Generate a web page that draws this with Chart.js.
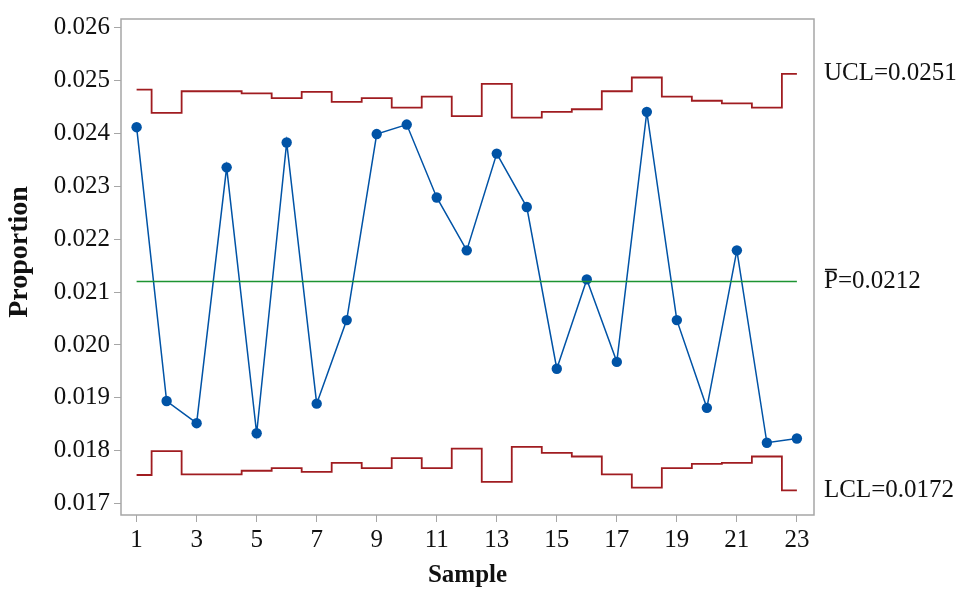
<!DOCTYPE html>
<html>
<head>
<meta charset="utf-8">
<script src="https://cdn.jsdelivr.net/npm/chart.js@4.4.1/dist/chart.umd.min.js"></script>
<style>
  html, body { margin: 0; padding: 0; background: #fff; }
  #wrap { width: 957px; height: 591px; }
</style>
</head>
<body>
<div id="wrap"><canvas id="pchart" width="957" height="591"></canvas></div>
<script>
// sample numbers
const samples = [1, 2, 3, 4, 5, 6, 7, 8, 9, 10, 11, 12, 13, 14, 15, 16, 17, 18, 19, 20, 21, 22, 23];

// proportion per sample
const proportion = [0.02412, 0.01894, 0.01852, 0.02336, 0.01833, 0.02383, 0.01889, 0.02047,
    0.02399, 0.02417, 0.02279, 0.02179, 0.02362, 0.02261, 0.01955, 0.02124,
    0.01968, 0.02441, 0.02047, 0.01881, 0.02179, 0.01815, 0.01823];

// control limits (vary by sample size)
const ucl = [0.02483, 0.02439, 0.02480, 0.02480, 0.02476, 0.02467, 0.02479, 0.02460,
    0.02467, 0.02449, 0.02470, 0.02433, 0.02494, 0.02430, 0.02441, 0.02446,
    0.02480, 0.02506, 0.02470, 0.02462, 0.02457, 0.02449, 0.02513];
const lcl = [0.01754, 0.01799, 0.01755, 0.01755, 0.01762, 0.01767, 0.01760, 0.01777,
    0.01767, 0.01786, 0.01767, 0.01804, 0.01741, 0.01807, 0.01796, 0.01789,
    0.01755, 0.01730, 0.01767, 0.01775, 0.01777, 0.01789, 0.01725];
const pBar = 0.0212;

const xTicks = [1, 3, 5, 7, 9, 11, 13, 15, 17, 19, 21, 23];
const yTicks = [0.017, 0.018, 0.019, 0.020, 0.021, 0.022, 0.023, 0.024, 0.025, 0.026];

const limitLabels = ['UCL=0.0251', 'P=0.0212', 'LCL=0.0172'];
const yTitle = 'Proportion';

const FONT = '"Liberation Serif", "Times New Roman", serif';
const BLUE = '#0053a6';
const RED = '#a01c20';
const GREEN = '#1d9432';
const GRAY = '#a6a6a6';

const toXY = (arr) => arr.map((v, i) => ({ x: samples[i], y: v }));

// frame, y title and right side limit labels
const extras = {
    id: 'extras',
    afterDraw(chart) {
        const ctx = chart.ctx;
        const a = chart.chartArea;
        const ys = chart.scales.y;
        ctx.save();
        ctx.strokeStyle = GRAY;
        ctx.lineWidth = 1.5;
        ctx.strokeRect(a.left, a.top, a.right - a.left, a.bottom - a.top);

        // y axis title
        ctx.save();
        ctx.translate(20, 252);
        ctx.rotate(-Math.PI / 2);
        ctx.fillStyle = '#111';
        ctx.font = 'bold 28px ' + FONT;
        ctx.textAlign = 'center';
        ctx.textBaseline = 'middle';
        ctx.fillText(yTitle, 0, 0);
        ctx.restore();

        ctx.fillStyle = '#111';
        ctx.font = '25px ' + FONT;
        ctx.textBaseline = 'middle';
        ctx.textAlign = 'left';
        const lx = a.right + 10;
        const yU = ys.getPixelForValue(ucl[ucl.length - 1]);
        const yC = ys.getPixelForValue(pBar);
        const yL = ys.getPixelForValue(lcl[lcl.length - 1]);
        ctx.fillText(limitLabels[0], lx, yU);
        ctx.fillText(limitLabels[1], lx, yC);
        ctx.fillText(limitLabels[2], lx, yL);
        // bar over the P
        const pw = ctx.measureText('P').width;
        ctx.strokeStyle = '#111';
        ctx.lineWidth = 1.5;
        ctx.beginPath();
        ctx.moveTo(lx + 1, yC - 12);
        ctx.lineTo(lx + pw - 1, yC - 12);
        ctx.stroke();
        ctx.restore();
    }
};

const ctx = document.getElementById('pchart').getContext('2d');
const chart = new Chart(ctx, {
    type: 'line',
    data: {
        datasets: [
            {
                label: 'UCL',
                data: toXY(ucl),
                borderColor: RED,
                borderWidth: 1.8,
                pointRadius: 0,
                stepped: 'middle',
                fill: false
            },
            {
                label: 'LCL',
                data: toXY(lcl),
                borderColor: RED,
                borderWidth: 1.8,
                pointRadius: 0,
                stepped: 'middle',
                fill: false
            },
            {
                label: 'P',
                data: [{ x: samples[0], y: pBar }, { x: samples[samples.length - 1], y: pBar }],
                borderColor: GREEN,
                borderWidth: 1.6,
                pointRadius: 0,
                fill: false
            },
            {
                label: 'Proportion',
                data: toXY(proportion),
                borderColor: BLUE,
                backgroundColor: BLUE,
                borderWidth: 1.5,
                pointRadius: 5.2,
                pointBorderWidth: 0,
                tension: 0,
                fill: false
            }
        ]
    },
    options: {
        responsive: false,
        animation: false,
        layout: { padding: { left: 0, right: 143, top: 10, bottom: 0 } },
        plugins: {
            legend: { display: false },
            tooltip: { enabled: false }
        },
        scales: {
            x: {
                type: 'linear',
                min: 0.48,
                max: 23.57,
                afterFit(scale) { scale.height = 76; },
                afterBuildTicks(scale) { scale.ticks = xTicks.map(v => ({ value: v })); },
                grid: { drawOnChartArea: false, drawTicks: true, tickLength: 7, color: GRAY, lineWidth: 1 },
                border: { display: false },
                ticks: {
                    color: '#111',
                    padding: 3,
                    font: { family: FONT, size: 25 },
                    callback: (v) => String(v)
                },
                title: {
                    display: true,
                    text: 'Sample',
                    color: '#111',
                    font: { family: FONT, size: 25, weight: 'bold' },
                    padding: { top: 0, bottom: 0 }
                }
            },
            y: {
                type: 'linear',
                min: 0.016783,
                max: 0.026167,
                afterFit(scale) { scale.width = 121; },
                afterBuildTicks(scale) { scale.ticks = yTicks.map(v => ({ value: v })); },
                grid: { drawOnChartArea: false, drawTicks: true, tickLength: 7, color: GRAY, lineWidth: 1 },
                border: { display: false },
                ticks: {
                    color: '#111',
                    padding: 4,
                    font: { family: FONT, size: 25 },
                    callback: (v) => v.toFixed(3)
                },
                title: { display: false }
            }
        }
    },
    plugins: [extras]
});
</script>
</body>
</html>
